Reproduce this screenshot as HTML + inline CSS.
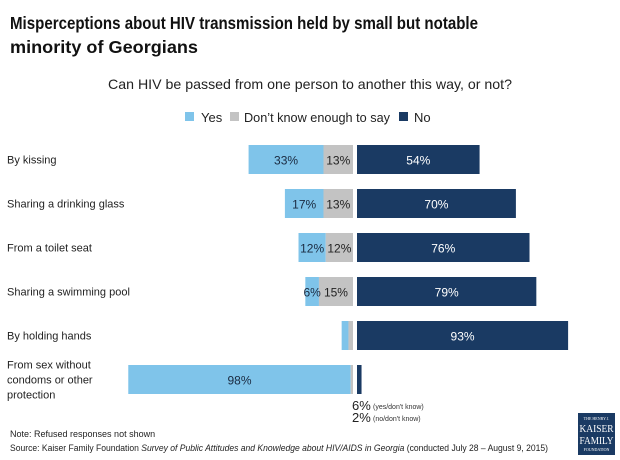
<!DOCTYPE html>
<html><head><meta charset="utf-8"><style>
html,body{margin:0;padding:0;background:#fff;}
svg{display:block;font-family:"Liberation Sans",sans-serif;}
</style></head><body>
<svg id="chart" width="620" height="460">
<text x="10" y="29" font-size="17.5" font-weight="bold" fill="#111" textLength="468" lengthAdjust="spacingAndGlyphs">Misperceptions about HIV transmission held by small but notable</text>
<text x="10" y="53" font-size="17.5" font-weight="bold" fill="#111" textLength="188" lengthAdjust="spacingAndGlyphs">minority of Georgians</text>
<text x="108" y="89" font-size="14" fill="#222" textLength="404" lengthAdjust="spacingAndGlyphs">Can HIV be passed from one person to another this way, or not?</text>
<g>
<rect x="185" y="112" width="9" height="9" fill="#7fc4ea"/>
<text x="201" y="122" font-size="13" fill="#222">Yes</text>
<rect x="230" y="112" width="9" height="9" fill="#c3c3c3"/>
<text x="244" y="122" font-size="13" fill="#222" textLength="146" lengthAdjust="spacingAndGlyphs">Don’t know enough to say</text>
<rect x="399" y="112" width="9" height="9" fill="#1a3a63"/>
<text x="414" y="122" font-size="13" fill="#222">No</text>
</g>
<g id="bars"></g>
<text x="352" y="410" font-size="13" fill="#222">6%</text>
<text x="373" y="409" font-size="7" fill="#333">(yes/don't know)</text>
<text x="352" y="422" font-size="13" fill="#222">2%</text>
<text x="373" y="421" font-size="7" fill="#333">(no/don't know)</text>
<text x="10" y="437" font-size="9" fill="#222">Note: Refused responses not shown</text>
<text x="10" y="451" font-size="9" fill="#222" textLength="538" lengthAdjust="spacingAndGlyphs">Source: Kaiser Family Foundation <tspan font-style="italic">Survey of Public Attitudes and Knowledge about HIV/AIDS in Georgia</tspan> (conducted July 28 – August 9, 2015)</text>
<g>
<rect x="578" y="413" width="37" height="42" fill="#1a3a63"/>
<text x="596.5" y="420" font-size="4" fill="#fff" text-anchor="middle" font-family="Liberation Serif,serif">THE HENRY J.</text>
<text x="596.5" y="432" font-size="10" fill="#fff" text-anchor="middle" font-family="Liberation Serif,serif" textLength="34" lengthAdjust="spacingAndGlyphs">KAISER</text>
<text x="596.5" y="444" font-size="10" fill="#fff" text-anchor="middle" font-family="Liberation Serif,serif" textLength="34" lengthAdjust="spacingAndGlyphs">FAMILY</text>
<text x="596.5" y="451" font-size="4" fill="#fff" text-anchor="middle" font-family="Liberation Serif,serif">FOUNDATION</text>
</g>
</svg>
<script>
const categories = ["By kissing","Sharing a drinking glass","From a toilet seat","Sharing a swimming pool","By holding hands","From sex without|condoms or other|protection"];
const yesValues = [33,17,12,6,3,98];
const dkValues = [13,13,12,15,2,1];
const noValues = [54,70,76,79,93,2];
const yesLabels = ["33%","17%","12%","6%","","98%"];
const dkLabels = ["13%","13%","12%","15%","",""];
const noLabels = ["54%","70%","76%","79%","93%",""];

const NS="http://www.w3.org/2000/svg";
const g=document.getElementById('bars');
const pxPer=2.27, midL=353, midR=357, row0=145, rowStep=44, barH=29;
function xLen(v){return v*pxPer;}
function yRow(i){return row0+i*rowStep;}
function mk(tag,attrs){const e=document.createElementNS(NS,tag);for(const k in attrs)e.setAttribute(k,attrs[k]);g.appendChild(e);return e;}
categories.forEach((c,i)=>{
  const y=yRow(i);
  const lines=c.split('|');
  const ly=y+barH/2+4-(lines.length-1)*7.5;
  lines.forEach((ln,j)=>{
    const t=mk('text',{x:7,y:ly+j*15,'font-size':11,fill:'#222'});
    t.textContent=ln;
    
    
  });
  const dkW=xLen(dkValues[i]), yesW=xLen(yesValues[i]);
  const dkX=midL-dkW, yesX=dkX-yesW;
  const r1=mk('rect',{x:yesX,y:y,width:yesW,height:barH,fill:'#7fc4ea'});
  
  
  const r2=mk('rect',{x:dkX,y:y,width:dkW,height:barH,fill:'#c3c3c3'});
  
  
  const noW=xLen(noValues[i]);
  const r3=mk('rect',{x:midR,y:y,width:noW,height:barH,fill:'#1a3a63'});
  
  
  const ty=y+barH/2+5;
  if(yesLabels[i]){const t=mk('text',{x:yesX+yesW/2,y:ty,'font-size':12,fill:'#1a2a40','text-anchor':'middle'});t.textContent=yesLabels[i];}
  if(dkLabels[i]){const t=mk('text',{x:dkX+dkW/2,y:ty,'font-size':12,fill:'#222','text-anchor':'middle'});t.textContent=dkLabels[i];}
  if(noLabels[i]){const t=mk('text',{x:midR+noW/2,y:ty,'font-size':12,fill:'#fff','text-anchor':'middle'});t.textContent=noLabels[i];}
});
</script>
</body></html>
